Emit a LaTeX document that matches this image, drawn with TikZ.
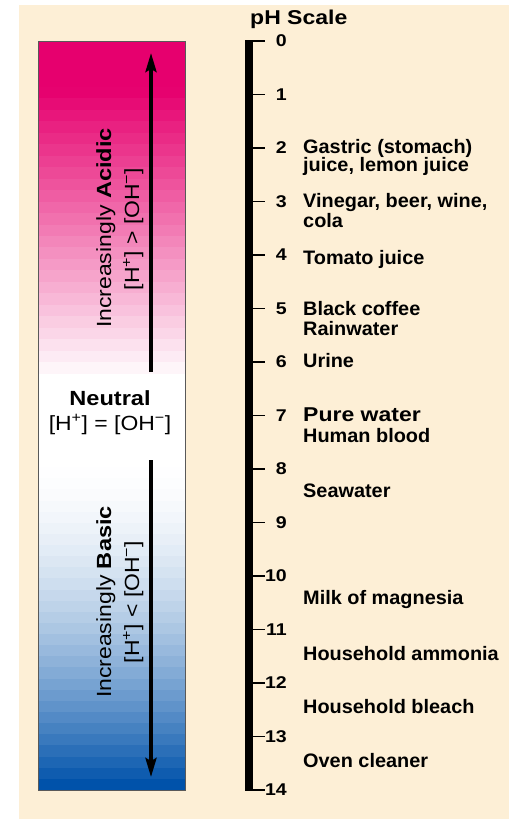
\documentclass[tikz,border=0pt]{standalone}
\usepackage{fontspec}
\setmainfont{Liberation Sans}[FakeStretch=1.12]
\newfontfamily\heavyfont{Liberation Sans Bold}[FakeStretch=1.15]
\newfontfamily\itemfont{Liberation Sans Bold}[FakeStretch=1.02]
\usepackage{tikz}
\usetikzlibrary{positioning,arrows.meta}
\definecolor{paper}{RGB}{253,239,214}
\definecolor{acidpink}{RGB}{230,0,110}
\definecolor{basicblue}{RGB}{0,82,170}

\begin{document}
\begin{tikzpicture}[x=1pt, y=-1pt, >={Stealth[length=19pt,width=11pt,inset=3pt]},
    every node/.style={inner sep=0pt},
    num/.style={anchor=east, font=\heavyfont\fontsize{17}{17}\selectfont},
    item/.style={anchor=base west, font=\itemfont\fontsize{19.5}{20.5}\selectfont},
    heavyitem/.style={anchor=base west, font=\heavyfont\fontsize{20}{20.5}\selectfont},
    barlabel/.style={anchor=base, font=\fontsize{20.5}{20.5}\selectfont},
    bigarrow/.style={->, line width=3.5pt}]
  \useasboundingbox (0,0) rectangle (509,819);
  \fill[paper] (19,5) rectangle (509,819);

  \fill[white] (38,41) rectangle (185,790);
  \foreach \i in {0,...,29}{
    \pgfmathsetmacro\p{min(100,115*(1-\i/29))}
    \fill[acidpink!\p!white] (38,{41+\i*11.47}) rectangle (185,{41+\i*11.47+11.6});
  }
  \foreach \i in {0,...,29}{
    \pgfmathsetmacro\p{100*(\i/29)^1.7}
    \fill[basicblue!\p!white] (38,{456+\i*11.13}) rectangle (185,{456+\i*11.13+11.3});
  }
  \draw[black!65, line width=1pt] (38,41) rectangle (185,790);

  \coordinate (acidtail) at (151,372);
  \coordinate (acidtip) at (151,53);
  \coordinate (basictail) at (151,460);
  \coordinate (basictip) at (151,777);
  \draw[bigarrow] (acidtail) -- (acidtip);
  \draw[bigarrow] (basictail) -- (basictip);

  \node[barlabel, rotate=90] (acidic) at (111,228) {Increasingly {\heavyfont Acidic}};
  \node[barlabel, rotate=90] (acidratio) at (139,229) {[H\textsuperscript{+}] > [OH\textsuperscript{−}]};
  \node[barlabel, font=\heavyfont\fontsize{20.5}{20.5}\selectfont] (neutral) at (110,405) {Neutral};
  \node[barlabel] (neutralratio) at (110,430) {[H\textsuperscript{+}] = [OH\textsuperscript{−}]};
  \node[barlabel, rotate=90] (basic) at (111,602) {Increasingly {\heavyfont Basic}};
  \node[barlabel, rotate=90] (basicratio) at (139,602) {[H\textsuperscript{+}] < [OH\textsuperscript{−}]};

  \node[heavyitem] (phtitle) at (250,24) {pH Scale};
  \fill (245,40.3) rectangle (253,790.7);
  \foreach \n in {0,...,14}{
    \draw[line width=1.4pt] (253,{41+53.5*\n}) -- (265,{41+53.5*\n});
    \node[num] (n\n) at (287,{41+53.5*\n}) {\n};
  }

  \node[item] (gastric) at (303,153) {Gastric (stomach)};
  \node[item] (lemon) at (303,171) {juice, lemon juice};
  \node[item] (vinegar) at (303,207) {Vinegar, beer, wine,};
  \node[item] (cola) at (303,227) {cola};
  \node[item] (tomato) at (303,264) {Tomato juice};
  \node[item] (coffee) at (303,315) {Black coffee};
  \node[item] (rain) at (303,335) {Rainwater};
  \node[item] (urine) at (303,367) {Urine};
  \node[heavyitem] (purewater) at (303,421) {Pure water};
  \node[item] (blood) at (303,442) {Human blood};
  \node[item] (seawater) at (303,497) {Seawater};
  \node[item] (magnesia) at (303,604) {Milk of magnesia};
  \node[item] (ammonia) at (303,660) {Household ammonia};
  \node[item] (bleach) at (303,713) {Household bleach};
  \node[item] (oven) at (303,767) {Oven cleaner};
\end{tikzpicture}
\end{document}
